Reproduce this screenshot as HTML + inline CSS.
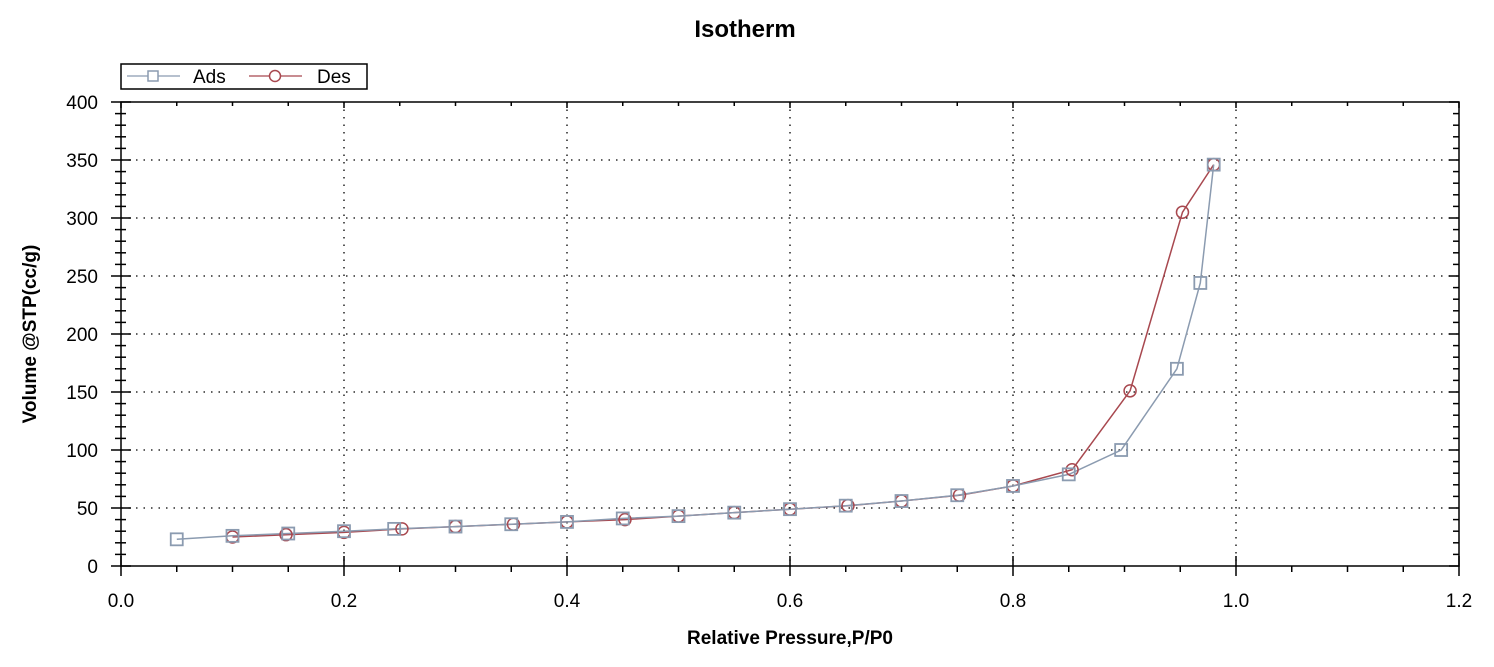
<!DOCTYPE html>
<html><head><meta charset="utf-8"><style>
html,body{margin:0;padding:0;background:#fff;}
svg{display:block;font-family:"Liberation Sans",Arial,sans-serif;}
</style></head><body>
<svg id="s" width="1494" height="667" viewBox="0 0 1494 667" xmlns="http://www.w3.org/2000/svg">
<rect width="1494" height="667" fill="#fff"/>
<text x="745" y="37" text-anchor="middle" font-size="24" font-weight="bold">Isotherm</text>
<g id="grid" stroke="#000" stroke-width="1.3" stroke-dasharray="1.5,6"></g>
<g id="axes" stroke="#000" stroke-width="1.5" fill="none"></g>
<g font-size="19" fill="#000" text-anchor="end">
<text x="98" y="573">0</text><text x="98" y="515">50</text><text x="98" y="457">100</text><text x="98" y="399">150</text>
<text x="98" y="341">200</text><text x="98" y="283">250</text><text x="98" y="225">300</text><text x="98" y="167">350</text><text x="98" y="109">400</text>
</g>
<g font-size="19" fill="#000" text-anchor="middle">
<text x="121" y="607">0.0</text><text x="344" y="607">0.2</text><text x="567" y="607">0.4</text><text x="790" y="607">0.6</text>
<text x="1013" y="607">0.8</text><text x="1236" y="607">1.0</text><text x="1459" y="607">1.2</text>
</g>
<text x="790" y="644" text-anchor="middle" font-size="19" font-weight="bold">Relative Pressure,P/P0</text>
<text transform="translate(36,334) rotate(-90)" text-anchor="middle" font-size="19" font-weight="bold">Volume @STP(cc/g)</text>
<rect x="121" y="64" width="246" height="25" fill="#fff" stroke="#000" stroke-width="1.5"/>
<line x1="127" y1="76" x2="180" y2="76" stroke="#8b9bb0" stroke-width="1.3"/>
<rect x="148" y="71" width="10" height="10" fill="#fff" stroke="#8b9bb0" stroke-width="1.5"/>
<text x="193" y="83" font-size="19">Ads</text>
<line x1="249" y1="76" x2="302" y2="76" stroke="#a8484f" stroke-width="1.3"/>
<circle cx="275" cy="76" r="5.5" fill="#fff" stroke="#a8484f" stroke-width="1.5"/>
<text x="317" y="83" font-size="19">Des</text>
<g id="series"></g>
</svg>
<script>
const X=v=>121+v*1115,Y=v=>566-v*1.16;
const NS="http://www.w3.org/2000/svg";
function el(p,t,a){const e=document.createElementNS(NS,t);for(const k in a)e.setAttribute(k,a[k]);p.appendChild(e);return e;}
const g=document.getElementById('grid'),ax=document.getElementById('axes'),s=document.getElementById('series');
for(let i=1;i<6;i++)el(g,'line',{x1:X(i*0.2),y1:102,x2:X(i*0.2),y2:566});
for(let i=1;i<8;i++)el(g,'line',{x1:121,y1:Y(i*50),x2:1459,y2:Y(i*50)});
el(ax,'rect',{x:121,y:102,width:1338,height:464});
for(let i=0;i<=24;i++){const x=X(i*0.05),M=i%4==0;el(ax,'line',{x1:x,y1:M?556:566,x2:x,y2:M?576:572});el(ax,'line',{x1:x,y1:102,x2:x,y2:M?108:106});}
for(let i=0;i<=40;i++){const y=Y(i*10),M=i%5==0;el(ax,'line',{x1:M?111:115,y1:y,x2:M?131:126,y2:y});el(ax,'line',{x1:M?1449:1453,y1:y,x2:1459,y2:y});}
const ads=[[0.05,23],[0.1,26],[0.15,28],[0.2,30],[0.245,32],[0.3,34],[0.35,36],[0.4,38],[0.45,41],[0.5,43],[0.55,46],[0.6,49],[0.65,52],[0.7,56],[0.75,61],[0.8,69],[0.85,79],[0.897,100],[0.947,170],[0.968,244],[0.98,346]];
const des=[[0.98,346],[0.952,305],[0.905,151],[0.853,83],[0.8,69],[0.752,61],[0.7,56],[0.652,52],[0.6,49],[0.55,46],[0.5,43],[0.452,40],[0.4,38],[0.352,36],[0.3,34],[0.252,32],[0.2,29],[0.148,27],[0.1,25]];
const pts=a=>a.map(p=>X(p[0]).toFixed(1)+','+Y(p[1]).toFixed(1)).join(' ');
el(s,'polyline',{points:pts(des),fill:'none',stroke:'#a8484f','stroke-width':1.5});
el(s,'polyline',{points:pts(ads),fill:'none',stroke:'#8b9bb0','stroke-width':1.5});
des.forEach(p=>el(s,'circle',{cx:X(p[0]),cy:Y(p[1]),r:6,fill:'none',stroke:'#a8484f','stroke-width':1.5}));
ads.forEach(p=>el(s,'rect',{x:X(p[0])-6,y:Y(p[1])-6,width:12,height:12,fill:'none',stroke:'#8b9bb0','stroke-width':1.8}));
</script>
</body></html>
